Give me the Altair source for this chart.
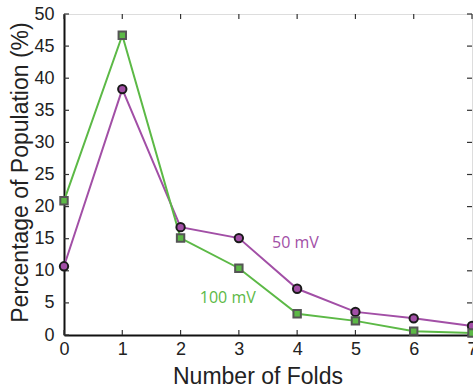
import altair as alt
import pandas as pd

folds = [0, 1, 2, 3, 4, 5, 6, 7]
pct_50mv = [10.7, 38.3, 16.8, 15.1, 7.2, 3.6, 2.6, 1.4]
pct_100mv = [20.9, 46.7, 15.1, 10.4, 3.3, 2.2, 0.6, 0.3]

x_ticks = [0, 1, 2, 3, 4, 5, 6, 7]
y_ticks = [0, 5, 10, 15, 20, 25, 30, 35, 40, 45, 50]

label_text = ["50 mV", "100 mV"]
label_x = [3.97, 2.81]
label_y = [14.3, 5.8]

PURPLE = "#A24FA6"
GREEN = "#5CB946"
FONT = "Liberation Sans"

df50 = pd.DataFrame({"folds": folds, "pct": pct_50mv})
df100 = pd.DataFrame({"folds": folds, "pct": pct_100mv})
dfl = pd.DataFrame({"folds": label_x, "pct": label_y, "t": label_text, "c": [PURPLE, GREEN]})
dfx = pd.DataFrame({"folds": x_ticks})
dfy = pd.DataFrame({"pct": y_ticks})

xs = alt.Scale(domain=[0, 7], nice=False, zero=False)
ys = alt.Scale(domain=[0, 50], nice=False)

xax = alt.Axis(values=x_ticks, format="d", title="Number of Folds", tickSize=0,
               labelFontSize=18, labelFont=FONT, labelColor="#222", labelPadding=5,
               labelFlush=False, labelOverlap=False, labelBound=False,
               titleFontSize=23, titleFont=FONT, titleFontWeight="normal", titleColor="#222",
               titleX=193.5, titleY=41, titleBaseline="middle", titleAlign="center",
               domainColor="#111", domainWidth=2, grid=False)
yax = alt.Axis(values=y_ticks, format="d", title="Percentage of Population (%)", tickSize=0,
               labelFontSize=18, labelFont=FONT, labelColor="#222", labelPadding=10,
               labelFlush=False, labelOverlap=False, labelBound=False,
               titleFontSize=23, titleFont=FONT, titleFontWeight="normal", titleColor="#222",
               titleX=-44, titleY=158, titleAngle=-90, titleBaseline="middle", titleAlign="center",
               domainColor="#111", domainWidth=2, grid=False)

X = alt.X("folds:Q", scale=xs, axis=xax, title="Number of Folds")
Y = alt.Y("pct:Q", scale=ys, axis=yax, title="Percentage of Population (%)")

line50 = alt.Chart(df50).mark_line(color=PURPLE, strokeWidth=2).encode(x=X, y=Y)
pts50 = alt.Chart(df50).mark_point(shape="circle", filled=True, fill=PURPLE, stroke="#1a1a1a",
                                    strokeWidth=2, size=70, opacity=1).encode(x=X, y=Y)
line100 = alt.Chart(df100).mark_line(color=GREEN, strokeWidth=2).encode(x=X, y=Y)
pts100 = alt.Chart(df100).mark_point(shape="square", filled=True, fill=GREEN, stroke="#555555",
                                      strokeWidth=2, size=55, opacity=1).encode(x=X, y=Y)

labels = alt.Chart(dfl).mark_text(font="Open Sans", fontSize=16, align="center", baseline="middle").encode(
    x=X, y=Y, text="t:N", color=alt.Color("c:N", scale=None))

tick_style = dict(color="#333", strokeWidth=1.2)
xt_bottom = alt.Chart(dfx).mark_rule(**tick_style).encode(x=X, y=alt.value(321), y2=alt.value(316))
xt_top = alt.Chart(dfx).mark_rule(**tick_style).encode(x=X, y=alt.value(0), y2=alt.value(5))
yt_left = alt.Chart(dfy).mark_rule(**tick_style).encode(y=Y, x=alt.value(0), x2=alt.value(5))
yt_right = alt.Chart(dfy).mark_rule(**tick_style).encode(y=Y, x=alt.value(408), x2=alt.value(403))

chart = alt.layer(
    line50, line100, xt_bottom, xt_top, yt_left, yt_right, pts50, pts100, labels
).properties(
    width=408, height=321,
    autosize=alt.AutoSizeParams(type="none"),
    padding={"left": 64, "top": 14, "right": 1, "bottom": 53},
).configure_view(stroke="#333", strokeWidth=1.5).configure(background="white")

chart.save("out.html", embed_options={"renderer": "svg", "actions": False})
